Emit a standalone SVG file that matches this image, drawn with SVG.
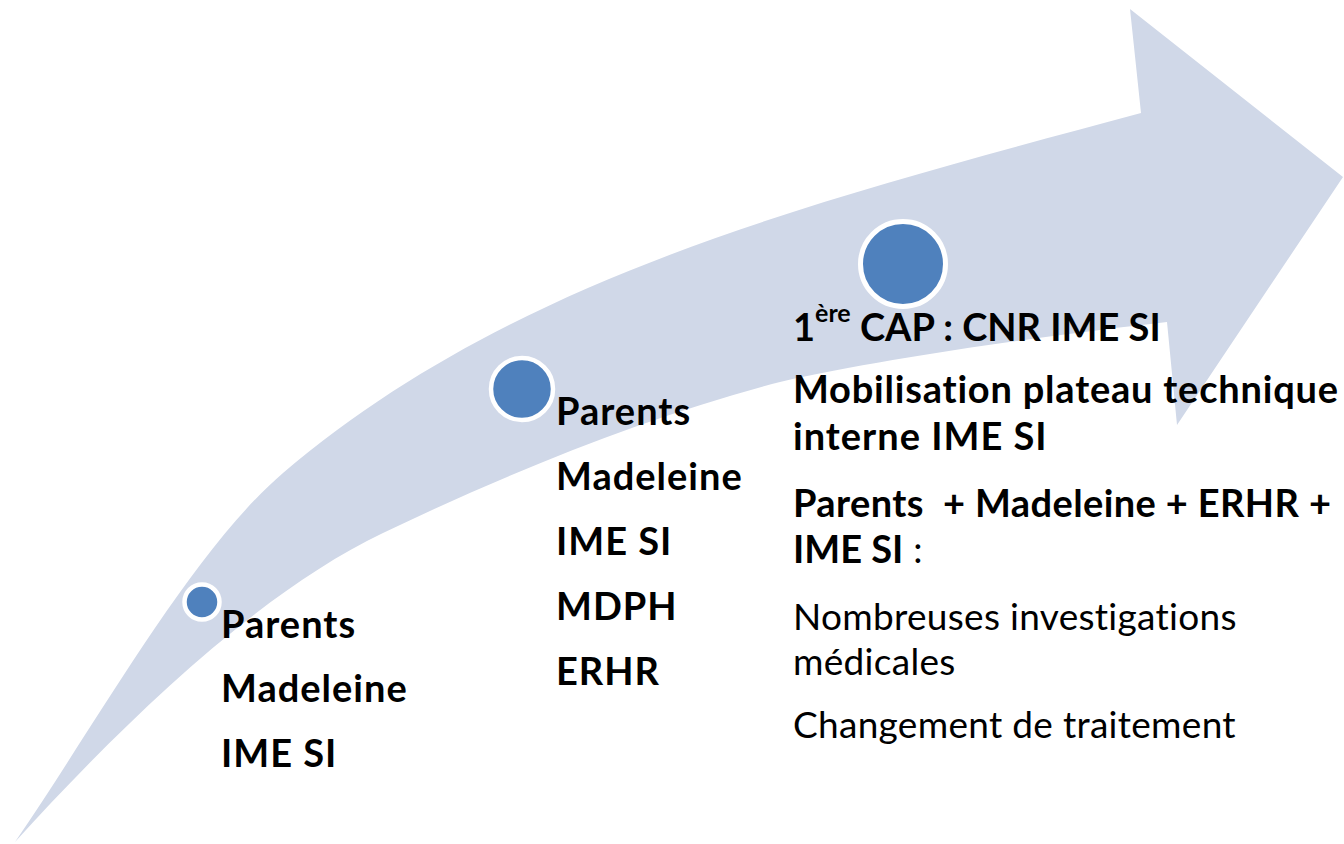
<svg xmlns="http://www.w3.org/2000/svg" width="1344" height="844" viewBox="0 0 1344 844">
<style>
  .band { fill: #D0D8E8; stroke: none; }
  .dot { fill: #4F81BD; stroke: #FFFFFF; }
  text { font-family: Lato, "Open Sans", "Liberation Sans", sans-serif; font-size: 37px; fill: #000000; font-variant-ligatures: none; font-feature-settings: "liga" 0, "clig" 0; }
  .b { font-weight: bold; font-size: 38px; letter-spacing: 1px; }
  .r { font-weight: normal; font-size: 37px; letter-spacing: 0.3px; }
  .t { letter-spacing: 0px; }
</style>
<rect x="0" y="0" width="1344" height="844" fill="#FFFFFF"/>
<g id="connectors">
  <path id="arrow" class="band" d="M15,842 C100,718 192,551 283,473 C513,277.5 811,202 1141,113 L1130,9 L1343,177 L1177,425 L1167,322 C1060,334 890,357 780,382 C650,415.8 513,470.6 383,533 C253,595 115,732 15,842 Z"/>
</g>
<g id="node-1">
  <circle class="dot" cx="202" cy="602" r="17.5" stroke-width="4.5"/>
  <text class="b" x="221" y="638">Parents</text>
  <text class="b" x="221" y="702">Madeleine</text>
  <text class="b" x="221" y="767">IME SI</text>
</g>
<g id="node-2">
  <circle class="dot" cx="522" cy="389" r="31" stroke-width="4.5"/>
  <text class="b" x="556" y="425">Parents</text>
  <text class="b" x="556" y="490">Madeleine</text>
  <text class="b" x="556" y="555">IME SI</text>
  <text class="b" x="556" y="620">MDPH</text>
  <text class="b" x="556" y="685">ERHR</text>
</g>
<g id="node-3">
  <circle class="dot" cx="903" cy="264" r="42.5" stroke-width="5"/>
  <text class="b t" x="793" y="341">1<tspan font-size="25" dy="-19">ère</tspan><tspan dy="19"> CAP : CNR IME SI</tspan></text>
  <text class="b" x="793" y="403" textLength="546">Mobilisation plateau technique</text>
  <text class="b" x="793" y="450">interne IME SI</text>
  <text class="b t" x="793" y="517" style="white-space:pre" textLength="538">Parents  + Madeleine + ERHR +</text>
  <text x="793" y="563"><tspan class="b t">IME SI</tspan><tspan class="r"> :</tspan></text>
  <text class="r" x="793" y="630">Nombreuses investigations</text>
  <text class="r" x="793" y="675">médicales</text>
  <text class="r" x="793" y="738">Changement de traitement</text>
</g>
</svg>
